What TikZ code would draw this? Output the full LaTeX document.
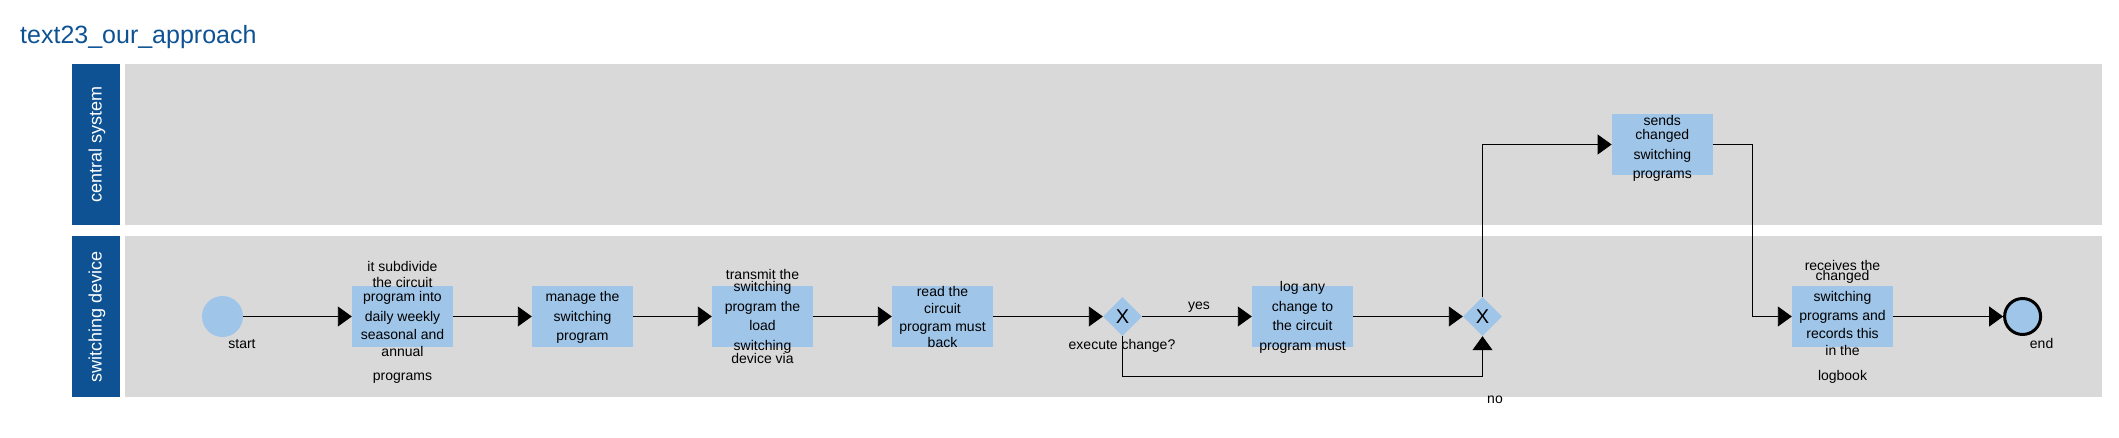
\documentclass[tikz,border=0pt]{standalone}
\usepackage{fontspec}
\setmainfont{Liberation Sans}
\usetikzlibrary{arrows.meta,shapes.geometric}
\definecolor{hdr}{RGB}{14,82,148}
\definecolor{lanegray}{RGB}{217,217,217}
\definecolor{taskblue}{RGB}{159,197,232}
\newcommand\tightlines{\lineskiplimit=-100pt\relax\lineskip=0pt\relax\baselineskip=0pt\relax}
\begin{document}
\begin{tikzpicture}[x=1pt,y=-1pt,
  lanebg/.style={fill=lanegray,draw=none},
  header/.style={fill=hdr,draw=none},
  lanelabel/.style={text=white,font=\fontsize{18}{20}\selectfont,rotate=90,inner sep=0pt},
  task/.style={fill=taskblue,draw=none,minimum width=101pt,minimum height=61pt,inner sep=0pt},
  tasktext/.style={font={\fontsize{14}{14}\selectfont\tightlines},align=center,inner sep=0pt,anchor=north},
  lbl/.style={font=\fontsize{14}{16}\selectfont,inner sep=0pt,anchor=base},
  gateway/.style={diamond,fill=taskblue,draw=none,minimum width=39pt,minimum height=39pt,inner sep=0pt,font=\fontsize{20}{22}\selectfont},
  flow/.style={draw=black,line width=0.9pt,-{Triangle[length=14pt,width=20pt]}},
]
\useasboundingbox (0,0) rectangle (2119,438);
% title
\node[font=\fontsize{25}{30}\selectfont,text=hdr,anchor=base west,inner sep=0pt] (title) at (20,43.3) {text23\_our\_approach};
% lanes
\path[header] (72,64) rectangle (120,225);
\path[lanebg] (125,64) rectangle (2102,225);
\path[header] (72,236) rectangle (120,397);
\path[lanebg] (125,236) rectangle (2102,397);
\node[lanelabel] (lab1) at (97,144.5) {central system};
\node[lanelabel] (lab2) at (97,316.5) {switching device};
% nodes
\node[circle,fill=taskblue,minimum size=41pt,inner sep=0pt] (start) at (222.5,316.5) {};
\node[task] (t1) at (402.5,316.5) {};
\node[task] (t2) at (582.5,316.5) {};
\node[task] (t3) at (762.5,316.5) {};
\node[task] (t4) at (942.5,316.5) {};
\node[gateway] (g1) at (1122.5,316.5) {X};
\node[task] (t5) at (1302.5,316.5) {};
\node[gateway] (g2) at (1482.5,316.5) {X};
\node[task] (t6) at (1662.3,144.5) {};
\node[task] (t7) at (1842.5,316.5) {};
\node[circle,fill=taskblue,draw=black,line width=3pt,minimum size=36pt,inner sep=0pt] (end) at (2022.6,316.5) {};
% connectors
\coordinate (lp) at (1122.5,376);
\coordinate (c1) at (1752,144.5);
\draw[flow] (start.east) -- (t1.west);
\draw[flow] (t1.east) -- (t2.west);
\draw[flow] (t2.east) -- (t3.west);
\draw[flow] (t3.east) -- (t4.west);
\draw[flow] (t4.east) -- (g1.west);
\draw[flow] (g1.east) -- (t5.west);
\draw[flow] (t5.east) -- (g2.west);
\draw[flow] (g1.south) -- (lp) -| (g2.south);
\draw[flow] (g2.north) |- (t6.west);
\draw[flow] (t6.east) -- (c1) |- (t7.west);
\draw[flow] (t7.east) -- (end.west);
% texts
\node[tasktext] (t1txt) at (402.5,260.3) {\rule{0pt}{11pt}it subdivide\\[16.4pt]the circuit\\[14pt]program into\\[20pt]daily weekly\\[17.3pt]seasonal and\\[17pt]annual\\[24.7pt]programs};
\node[tasktext] (t2txt) at (582.5,290) {\rule{0pt}{11pt}manage the\\[20pt]switching\\[19pt]program};
\node[tasktext] (t3txt) at (762.5,268) {\rule{0pt}{11pt}transmit the\\[12pt]switching\\[20pt]program the\\[19.7pt]load\\[20pt]switching\\[12.6pt]device via};
\node[tasktext] (t4txt) at (942.5,285.7) {\rule{0pt}{11pt}read the\\[16.6pt]circuit\\[17.7pt]program must\\[16.3pt]back};
\node[tasktext] (t5txt) at (1302.5,280) {\rule{0pt}{11pt}log any\\[20pt]change to\\[19.7pt]the circuit\\[20pt]program must};
\node[tasktext] (t6txt) at (1662.3,114) {\rule{0pt}{11pt}sends\\[14pt]changed\\[20pt]switching\\[19.7pt]programs};
\node[tasktext] (t7txt) at (1842.5,259.7) {\rule{0pt}{11pt}receives the\\[10pt]changed\\[20.3pt]switching\\[19.7pt]programs and\\[18pt]records this\\[17pt]in the\\[25pt]logbook};
\node[lbl] (startlbl) at (242,348.7) {start};
\node[lbl] (endlbl) at (2041.6,348.7) {end};
\node[lbl] (execlbl) at (1122,349) {execute change?};
\node[lbl] (yeslbl) at (1199,309) {yes};
\node[lbl] (nolbl) at (1495,403.3) {no};
\end{tikzpicture}
\end{document}
